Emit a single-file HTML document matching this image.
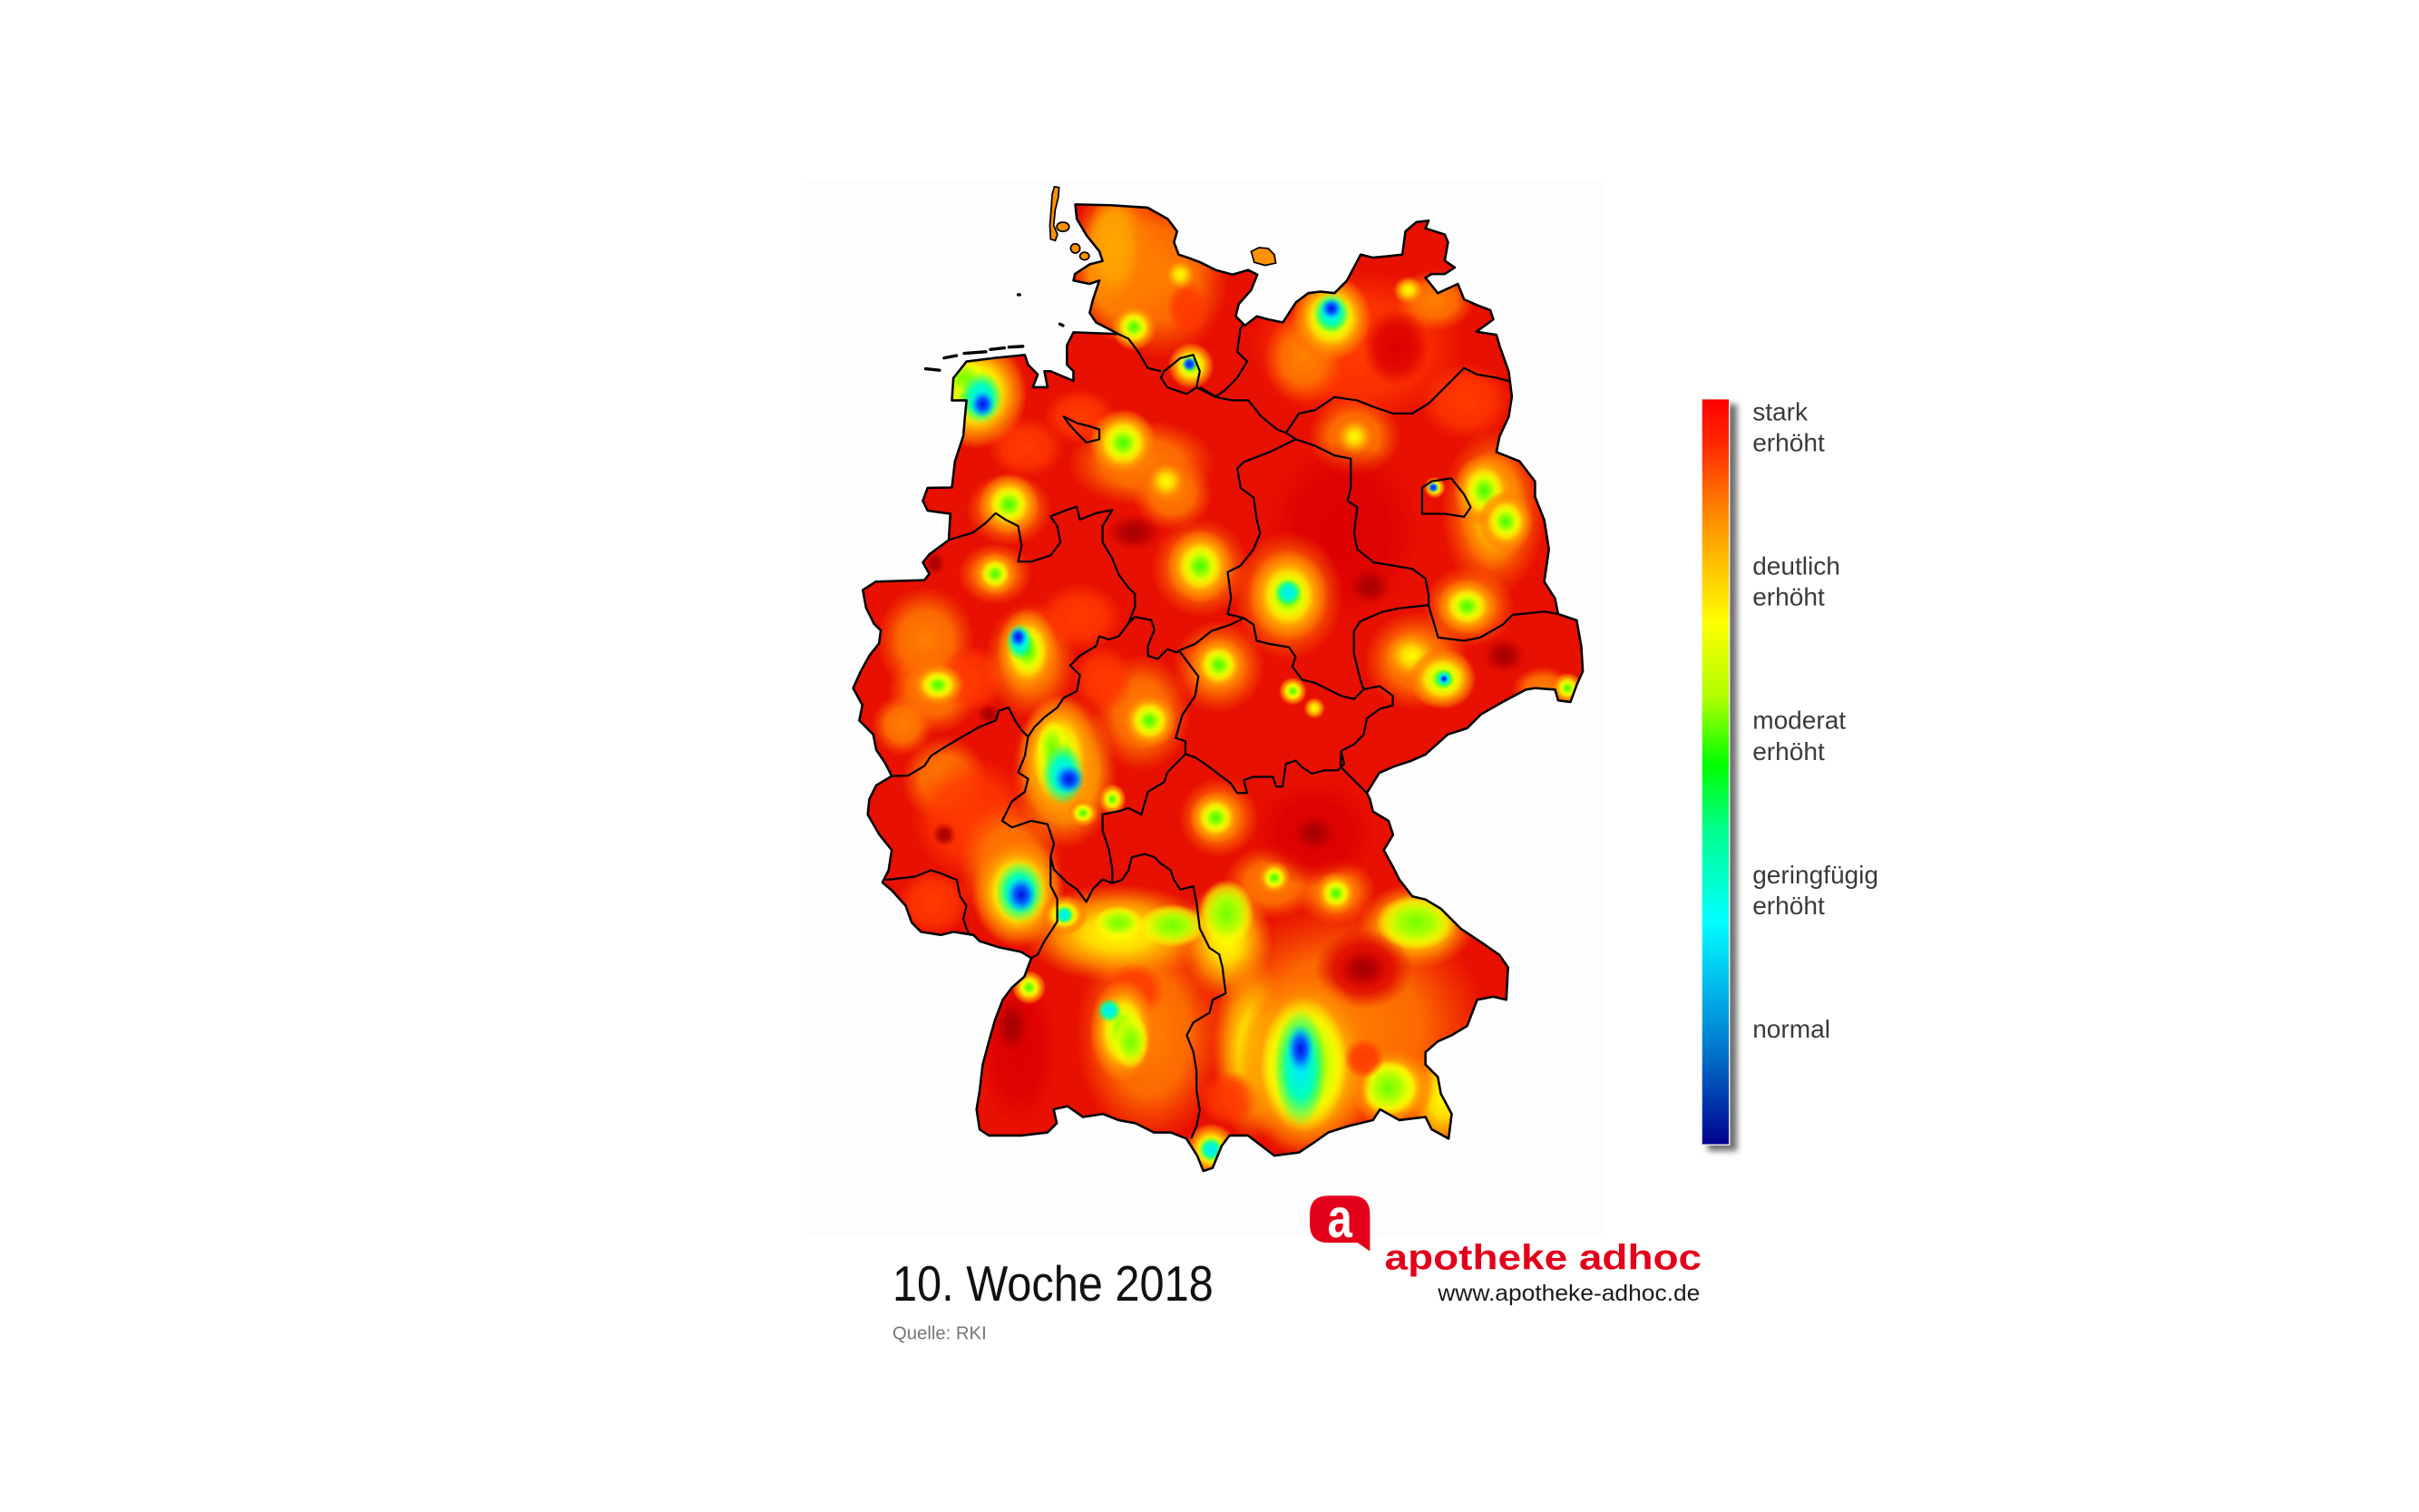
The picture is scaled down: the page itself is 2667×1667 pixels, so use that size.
<!DOCTYPE html>
<html><head><meta charset="utf-8"><style>
html,body{margin:0;padding:0;background:#fff;width:2667px;height:1667px;overflow:hidden}
svg{display:block}
</style></head><body>
<svg xmlns="http://www.w3.org/2000/svg" width="2667" height="1667" viewBox="0 0 1568 980" preserveAspectRatio="none">
<defs>
<radialGradient id="G"><stop offset="0" stop-color="#40ff00"/><stop offset=".2" stop-color="#90ff00"/><stop offset=".35" stop-color="#e0ff00"/><stop offset=".5" stop-color="#ffe000"/><stop offset=".66" stop-color="#ffa000" stop-opacity=".95"/><stop offset=".85" stop-color="#ff8000" stop-opacity=".6"/><stop offset="1" stop-color="#ff7000" stop-opacity="0"/></radialGradient>
<radialGradient id="GP"><stop offset="0" stop-color="#70ff00"/><stop offset=".45" stop-color="#b0ff00"/><stop offset=".75" stop-color="#f0ff00" stop-opacity=".7"/><stop offset="1" stop-color="#ffff00" stop-opacity="0"/></radialGradient>
<radialGradient id="Ci"><stop offset="0" stop-color="#00e8ff"/><stop offset=".5" stop-color="#00ffc0"/><stop offset="1" stop-color="#00ff80" stop-opacity="0"/></radialGradient>
<radialGradient id="Bi"><stop offset="0" stop-color="#0010e0"/><stop offset=".45" stop-color="#0060ff"/><stop offset="1" stop-color="#00c0ff" stop-opacity="0"/></radialGradient>
<radialGradient id="Y"><stop offset="0" stop-color="#ffff00"/><stop offset=".35" stop-color="#ffd800"/><stop offset=".65" stop-color="#ffa000" stop-opacity=".8"/><stop offset="1" stop-color="#ff8000" stop-opacity="0"/></radialGradient>
<radialGradient id="O"><stop offset="0" stop-color="#ff8000"/><stop offset=".55" stop-color="#ff7800" stop-opacity=".85"/><stop offset="1" stop-color="#ff6000" stop-opacity="0"/></radialGradient>
<radialGradient id="L"><stop offset="0" stop-color="#ffa800"/><stop offset=".6" stop-color="#ffa000" stop-opacity=".85"/><stop offset="1" stop-color="#ff9000" stop-opacity="0"/></radialGradient>
<radialGradient id="P"><stop offset="0" stop-color="#ff3c00"/><stop offset=".6" stop-color="#ff3800" stop-opacity=".8"/><stop offset="1" stop-color="#ff3800" stop-opacity="0"/></radialGradient>
<radialGradient id="R"><stop offset="0" stop-color="#dd0000"/><stop offset=".6" stop-color="#dd0000" stop-opacity=".8"/><stop offset="1" stop-color="#dd0000" stop-opacity="0"/></radialGradient>
<radialGradient id="D"><stop offset="0" stop-color="#a40000"/><stop offset=".45" stop-color="#b00000" stop-opacity=".85"/><stop offset="1" stop-color="#c80000" stop-opacity="0"/></radialGradient>
<linearGradient id="cb" x1="0" y1="0" x2="0" y2="1">
<stop offset="0" stop-color="#ff0000"/><stop offset=".06" stop-color="#ff2800"/><stop offset=".145" stop-color="#ff8000"/><stop offset=".22" stop-color="#ffc000"/><stop offset=".30" stop-color="#ffff00"/><stop offset=".40" stop-color="#b0ff00"/><stop offset=".49" stop-color="#00ff00"/><stop offset=".58" stop-color="#00ff90"/><stop offset=".70" stop-color="#00ffff"/><stop offset=".80" stop-color="#00b0e8"/><stop offset=".88" stop-color="#0070c8"/><stop offset=".95" stop-color="#0030a8"/><stop offset="1" stop-color="#000090"/>
</linearGradient>
<filter id="sh" x="-50%" y="-5%" width="200%" height="110%"><feGaussianBlur stdDeviation="2"/></filter>
<path id="outline" d="M697,132.5 L720,133 744,134.6 757,142 763,150 761,157 764,165 770,167 778,170 788,175 799,178 809,175 815,178 811,188 803,197 801,205 807,211 814.7,205 822,207 831.5,209 840,196 848,190 856,189 865,190 873,182 882,165 890,167 900,166 909,165 911,150 918,144 926,143 924,148 936.5,152 938.6,157 936.5,169 943,173.4 936.5,177.6 928,177.6 924,180 932,190 945,184 949,194 958,198 966,201 968,207 957,215 970,217 972,224 978,241 980,257 978,270 972,283 970,293 985,299 995,312 995,322 1001,337 1004,356 1001,377 1008,388 1010,398 1022,402 1025,419 1026,435 1022,444 1018,455 1010,454 1008,447 995,446 989,447 974,455 960,463 951,472 938.5,476 924,489 915,493 903,497 894,501 886,514 888,518 890,526 900,532 903,541 897,551 903,562 907,570 915.5,581 924,583 934,589 947,602 953,606 962,612 972,619 977.5,627 976.4,648 968,646 957.5,648 951,665 941,671 932,675 924,682 924,690 932,698 934,709 941,722 939,738 928,732 924,724 907,726 894.5,719 890,726 873.5,730 861,734 852.5,740 842,747 826,749 809,736 797,736 792,742.5 786,757 780,759 776,749 769,738 759,734 748,734 736,728 725,726 715,722 702,724 692,717 683,719 685,728 679,734 662,736 641,736 635,732 633,719 635,707 637,690 641,675 645,661 650,648 656,640 664,633 668.5,621 662,617 647.5,614 635,610 631,606 618,604 610,606 597,604 591,598 587,587 578,577 572,572 576,564 578,551 570,541 562.5,528 563.5,518 568,509 578,503 574,495 568,486 566,476 557,467 559,457 553,446 558,435 563.5,425 569.8,417 570.9,408.6 566.6,404.4 561.4,394 559.3,382.4 567.7,377 599.2,376 602.4,372 598.2,364.5 602.4,359.3 615,350 616,333 601.3,331 598.2,324.6 601.3,316.2 617,316 619,299 624.4,282.6 625.5,270 626.5,259.5 617,259.5 618,245 626.5,234.3 645,232 664.3,230 666.4,236.4 672.7,242.7 669.5,251 679,251 677,240.6 681,240.6 695.8,246.9 695.8,240.6 691.6,236.4 691.6,223.8 695.8,215.4 725,216.5 710.5,209 706.3,202.8 708.4,194.4 712.6,181.8 706.3,184 695.8,181.8 696.8,177.6 706.3,171.3 714.7,169.2 712.6,162.9 704.2,152.4 698,141.9 Z"/>
<clipPath id="de"><use href="#outline"/></clipPath>
</defs>

<rect x="0" y="0" width="1568" height="980" fill="#ffffff"/>
<rect x="522.7" y="117" width="517" height="684" fill="#fdfdfd"/>

<g clip-path="url(#de)">
<rect x="540" y="110" width="500" height="660" fill="#e81000"/>
<!-- broad areas -->
<ellipse cx="725" cy="170" rx="32" ry="52" fill="url(#L)"/>
<ellipse cx="752" cy="178" rx="45" ry="55" fill="url(#O)"/>
<ellipse cx="722" cy="160" rx="18" ry="35" fill="url(#L)"/>
<ellipse cx="770" cy="200" rx="14" ry="18" fill="url(#P)"/>
<ellipse cx="880" cy="225" rx="70" ry="50" fill="url(#P)"/>
<ellipse cx="845" cy="232" rx="26" ry="30" fill="url(#O)"/>
<ellipse cx="930" cy="195" rx="26" ry="20" fill="url(#O)"/>
<ellipse cx="905" cy="225" rx="22" ry="25" fill="url(#R)"/>
<ellipse cx="950" cy="260" rx="30" ry="25" fill="url(#P)"/>
<ellipse cx="878" cy="283" rx="30" ry="26" fill="url(#O)"/>
<ellipse cx="968" cy="332" rx="34" ry="55" fill="url(#O)"/>
<ellipse cx="968" cy="330" rx="22" ry="40" fill="url(#Y)"/>
<ellipse cx="952" cy="393" rx="30" ry="26" fill="url(#O)"/>
<ellipse cx="918" cy="428" rx="34" ry="32" fill="url(#O)"/>
<ellipse cx="915" cy="425" rx="18" ry="16" fill="url(#Y)"/>
<ellipse cx="1000" cy="446" rx="20" ry="14" fill="url(#O)"/>
<ellipse cx="870" cy="345" rx="50" ry="60" fill="url(#R)"/>
<ellipse cx="740" cy="300" rx="48" ry="28" fill="url(#O)"/>
<ellipse cx="700" cy="270" rx="24" ry="18" fill="url(#P)"/>
<ellipse cx="665" cy="290" rx="25" ry="20" fill="url(#P)"/>
<ellipse cx="760" cy="320" rx="26" ry="24" fill="url(#O)"/>
<ellipse cx="778" cy="368" rx="32" ry="32" fill="url(#O)"/>
<ellipse cx="835" cy="386" rx="36" ry="42" fill="url(#O)"/>
<ellipse cx="654" cy="330" rx="28" ry="24" fill="url(#O)"/>
<ellipse cx="645" cy="372" rx="24" ry="20" fill="url(#O)"/>
<ellipse cx="600" cy="415" rx="32" ry="35" fill="url(#O)"/>
<ellipse cx="605" cy="448" rx="30" ry="28" fill="url(#O)"/>
<ellipse cx="585" cy="470" rx="20" ry="20" fill="url(#O)"/>
<ellipse cx="630" cy="440" rx="22" ry="22" fill="url(#P)"/>
<ellipse cx="668" cy="428" rx="30" ry="38" fill="url(#O)"/>
<ellipse cx="700" cy="400" rx="28" ry="22" fill="url(#P)"/>
<ellipse cx="790" cy="432" rx="30" ry="30" fill="url(#O)"/>
<ellipse cx="740" cy="462" rx="32" ry="38" fill="url(#O)"/>
<ellipse cx="715" cy="440" rx="20" ry="22" fill="url(#P)"/>
<ellipse cx="612" cy="505" rx="28" ry="28" fill="url(#O)"/>
<ellipse cx="630" cy="530" rx="40" ry="40" fill="url(#P)"/>
<ellipse cx="605" cy="585" rx="24" ry="22" fill="url(#P)"/>
<ellipse cx="655" cy="560" rx="34" ry="42" fill="url(#O)"/>
<ellipse cx="690" cy="500" rx="34" ry="50" fill="url(#Y)"/>
<ellipse cx="790" cy="530" rx="26" ry="26" fill="url(#O)"/>
<ellipse cx="825" cy="572" rx="32" ry="24" fill="url(#O)"/>
<ellipse cx="866" cy="578" rx="26" ry="22" fill="url(#O)"/>
<ellipse cx="852" cy="540" rx="40" ry="35" fill="url(#R)"/>
<ellipse cx="870" cy="665" rx="95" ry="80" fill="url(#O)"/>
<ellipse cx="745" cy="670" rx="48" ry="72" fill="url(#O)"/>
<ellipse cx="725" cy="605" rx="62" ry="32" fill="url(#Y)"/>
<ellipse cx="795" cy="610" rx="30" ry="38" fill="url(#Y)"/>
<ellipse cx="812" cy="680" rx="26" ry="60" fill="url(#Y)"/>
<ellipse cx="935" cy="712" rx="24" ry="36" fill="url(#Y)"/>
<ellipse cx="918" cy="600" rx="38" ry="28" fill="url(#Y)"/>
<ellipse cx="884" cy="628" rx="32" ry="26" fill="url(#R)"/>
<ellipse cx="735" cy="642" rx="20" ry="18" fill="url(#P)"/>
<ellipse cx="797" cy="712" rx="20" ry="18" fill="url(#P)"/>
<ellipse cx="660" cy="680" rx="25" ry="50" fill="url(#R)"/>
<!-- dark reds -->
<ellipse cx="735" cy="345" rx="18" ry="12" fill="url(#D)"/>
<ellipse cx="888" cy="380" rx="14" ry="12" fill="url(#D)"/>
<ellipse cx="852" cy="540" rx="14" ry="12" fill="url(#D)"/>
<ellipse cx="884" cy="628" rx="16" ry="13" fill="url(#D)"/>
<ellipse cx="656" cy="665" rx="12" ry="18" fill="url(#D)"/>
<ellipse cx="975" cy="425" rx="14" ry="12" fill="url(#D)"/>
<ellipse cx="641" cy="463" rx="8" ry="7" fill="url(#D)"/>
<ellipse cx="612" cy="541" rx="8" ry="8" fill="url(#D)"/>
<ellipse cx="606" cy="365" rx="7" ry="8" fill="url(#D)"/>
<!-- spots -->
<ellipse cx="735" cy="212" rx="15" ry="15" fill="url(#G)"/>
<ellipse cx="765" cy="178" rx="10" ry="10" fill="url(#Y)"/>
<ellipse cx="772" cy="237" rx="15" ry="15" fill="url(#G)"/>
<ellipse cx="771" cy="236" rx="5" ry="5" fill="url(#Bi)"/>
<ellipse cx="863" cy="206" rx="26" ry="28" fill="url(#G)"/>
<ellipse cx="863" cy="203" rx="12" ry="13" fill="url(#Ci)"/>
<ellipse cx="863" cy="200" rx="7" ry="7" fill="url(#Bi)"/>
<ellipse cx="913" cy="188" rx="10" ry="9" fill="url(#Y)"/>
<ellipse cx="878" cy="283" rx="12" ry="12" fill="url(#Y)"/>
<ellipse cx="930" cy="316" rx="7" ry="7" fill="url(#G)"/>
<ellipse cx="929" cy="316" rx="3.5" ry="3.5" fill="url(#Bi)"/>
<ellipse cx="962" cy="318" rx="20" ry="24" fill="url(#G)"/>
<ellipse cx="976" cy="338" rx="18" ry="20" fill="url(#G)"/>
<ellipse cx="951" cy="393" rx="20" ry="18" fill="url(#G)"/>
<ellipse cx="935" cy="440" rx="22" ry="20" fill="url(#G)"/>
<ellipse cx="936" cy="440" rx="6" ry="6" fill="url(#Ci)"/>
<ellipse cx="936" cy="440" rx="3" ry="3" fill="url(#Bi)"/>
<ellipse cx="1016" cy="446" rx="10" ry="10" fill="url(#G)"/>
<ellipse cx="838" cy="448" rx="9" ry="9" fill="url(#G)"/>
<ellipse cx="852" cy="459" rx="7" ry="7" fill="url(#Y)"/>
<ellipse cx="632" cy="255" rx="34" ry="36" fill="url(#G)"/>
<ellipse cx="625" cy="245" rx="14" ry="12" fill="url(#GP)"/>
<ellipse cx="636" cy="258" rx="14" ry="17" fill="url(#Ci)"/>
<ellipse cx="637" cy="262" rx="8" ry="9" fill="url(#Bi)"/>
<ellipse cx="728" cy="287" rx="22" ry="22" fill="url(#G)"/>
<ellipse cx="756" cy="312" rx="13" ry="13" fill="url(#Y)"/>
<ellipse cx="654" cy="327" rx="20" ry="20" fill="url(#G)"/>
<ellipse cx="645" cy="372" rx="14" ry="14" fill="url(#G)"/>
<ellipse cx="778" cy="367" rx="22" ry="24" fill="url(#G)"/>
<ellipse cx="835" cy="386" rx="26" ry="30" fill="url(#G)"/>
<ellipse cx="835" cy="384" rx="9" ry="9" fill="url(#Ci)"/>
<ellipse cx="666" cy="422" rx="20" ry="28" fill="url(#G)"/>
<ellipse cx="661" cy="416" rx="9" ry="12" fill="url(#Ci)"/>
<ellipse cx="660" cy="413" rx="6" ry="7" fill="url(#Bi)"/>
<ellipse cx="608" cy="444" rx="17" ry="14" fill="url(#G)"/>
<ellipse cx="790" cy="431" rx="18" ry="18" fill="url(#G)"/>
<ellipse cx="745" cy="467" rx="18" ry="18" fill="url(#G)"/>
<ellipse cx="686" cy="492" rx="26" ry="42" fill="url(#G)"/>
<ellipse cx="682" cy="485" rx="10" ry="18" fill="url(#GP)"/>
<ellipse cx="689" cy="502" rx="14" ry="20" fill="url(#Ci)"/>
<ellipse cx="693" cy="505" rx="10" ry="10" fill="url(#Bi)"/>
<ellipse cx="702" cy="527" rx="10" ry="9" fill="url(#G)"/>
<ellipse cx="721" cy="518" rx="9" ry="10" fill="url(#G)"/>
<ellipse cx="660" cy="578" rx="30" ry="36" fill="url(#G)"/>
<ellipse cx="661" cy="578" rx="16" ry="20" fill="url(#Ci)"/>
<ellipse cx="662" cy="580" rx="10" ry="12" fill="url(#Bi)"/>
<ellipse cx="690" cy="593" rx="15" ry="13" fill="url(#G)"/>
<ellipse cx="690" cy="593" rx="6" ry="6" fill="url(#Ci)"/>
<ellipse cx="760" cy="600" rx="22" ry="14" fill="url(#GP)"/>
<ellipse cx="725" cy="598" rx="16" ry="11" fill="url(#GP)"/>
<ellipse cx="795" cy="592" rx="18" ry="22" fill="url(#GP)"/>
<ellipse cx="788" cy="530" rx="17" ry="17" fill="url(#G)"/>
<ellipse cx="866" cy="579" rx="14" ry="14" fill="url(#G)"/>
<ellipse cx="826" cy="569" rx="11" ry="11" fill="url(#G)"/>
<ellipse cx="667" cy="640" rx="11" ry="11" fill="url(#G)"/>
<ellipse cx="728" cy="668" rx="22" ry="34" fill="url(#G)"/>
<ellipse cx="733" cy="675" rx="12" ry="18" fill="url(#GP)"/>
<ellipse cx="719" cy="655" rx="8" ry="8" fill="url(#Ci)"/>
<ellipse cx="918" cy="598" rx="26" ry="18" fill="url(#GP)"/>
<ellipse cx="902" cy="705" rx="28" ry="26" fill="url(#G)"/>
<ellipse cx="900" cy="705" rx="18" ry="18" fill="url(#GP)"/>
<ellipse cx="846" cy="690" rx="44" ry="60" fill="url(#G)"/>
<ellipse cx="845" cy="690" rx="28" ry="44" fill="url(#GP)"/>
<ellipse cx="843" cy="692" rx="17" ry="38" fill="url(#Ci)"/>
<ellipse cx="843" cy="680" rx="9" ry="16" fill="url(#Bi)"/>
<ellipse cx="884" cy="686" rx="13" ry="13" fill="url(#P)"/>
<ellipse cx="785" cy="745" rx="17" ry="17" fill="url(#G)"/>
<ellipse cx="785" cy="745" rx="8" ry="8" fill="url(#Ci)"/>
</g>

<!-- outline -->
<use href="#outline" fill="none" stroke="#000" stroke-width="1.5" stroke-linejoin="round"/>

<!-- islands -->
<g stroke="#000" stroke-width="1" fill="#ff9000">
<polygon points="683.5,121 686.5,121.5 686,128 684,136 683,146 685.5,152 684,156 681,155 680.5,146 681.5,134 682,126"/>
<ellipse cx="689" cy="147" rx="4" ry="3"/>
<ellipse cx="697" cy="161" rx="3" ry="3"/>
<ellipse cx="703" cy="166" rx="3" ry="2.5"/>
<polygon points="811,163 816,160.5 822,161 826,165 827,170.5 820,172 813,170"/>
</g>
<g stroke="#000" stroke-width="2" stroke-linecap="round" fill="none">
<line x1="600" y1="239" x2="609" y2="240"/>
<line x1="612" y1="232" x2="620" y2="230.5"/>
<line x1="625" y1="229" x2="639" y2="228"/>
<line x1="642" y1="226.5" x2="651" y2="225.5"/>
<line x1="654" y1="225" x2="663" y2="224.5"/>
<line x1="660" y1="191" x2="661" y2="191"/>
<line x1="687" y1="210" x2="689" y2="211"/>
</g>

<!-- state borders -->
<g fill="none" stroke="#000" stroke-width="1.3" stroke-linejoin="round">
<polyline points="725,216.5 731.5,219.6 737.8,228 744,238.5 752.5,240.6"/>
<polygon points="752.5,244.8 754.6,240.6 765,232.2 773.5,230 777.7,240.6 775.6,251.1 769.3,255.3 756.7,251.1"/>
<polyline points="806,210 804,213.3 802,228 808.4,234.3 802,244.8 793.7,253.2 788,257 777.7,251"/>
<polyline points="775.6,251.1 788.2,257.4 798.7,259.5 809.2,259.5 817.6,270 828,278.4 833.6,280.5 840,284.7"/>
<polyline points="833.6,280.5 842,268 852.5,265.8 865,257.4 879.8,259.5 890.3,263.7 902.9,268 915.5,268 926,261.6 938.6,249 949,238.5 957.5,242.7 970,244.8 978,247"/>
<polyline points="840,284.7 823,293 806.3,299.4 802,303.6 804.2,316.2 812.6,322.5 814.7,337.2 816.8,345.6 812.6,356 804.2,366.6 795.8,370.8 798,387.6 795.8,398 806.2,400.6"/>
<polyline points="840,284.7 852.5,289 865,295.2 875.6,297.3 875.6,316.2 873.5,324.6 879.8,328.8 877.7,345.6 879.8,356 890.3,364.5 902.9,366.6 915.5,368.7 924,375 926,385.5 926,392.2"/>
<polyline points="877.6,409 881.8,402.7 896.5,396.4 907,394.3 926,392.2 932.2,413.2 949,415.3 959.5,413.2 974.2,404.8 980.5,398.5 1001.5,396.4 1010,398"/>
<polyline points="877.6,409 877.6,423.7 881.8,440.5 883.9,446.8"/>
<polyline points="806.2,400.6 812.5,404.8 814.6,415.3 823,417.4 835.6,419.5 839.8,425.8 837.7,432.1 844,440.5 852.4,442.6 860.8,446.8 869.2,451 877.6,453.1 883.9,446.8"/>
<polyline points="883.9,446.8 894.4,444.7 902.8,451 902.8,457.3 894.4,459.4 886,465.7 883.9,476.2 877.6,482.5 869.2,486.7"/>
<polyline points="869.2,486.7 869,497 879.7,507.7 886,514"/>
<polyline points="869.2,486.7 871.3,495.1 867.1,499.3 858.7,499.3 850.3,501.4 844,497.2 839.8,493 833.5,495.1 831.4,509.8 827.2,509.8 825.1,503.5 812.5,503.5 806.2,505.6 808.3,514 802,514 797.8,507.7 789.4,501.4 781,495.1 774.7,490.9 768.4,488.8"/>
<polyline points="768.4,488.8 768.4,480.4 762.1,478.3 766.3,463.6 774.7,451 776.8,438.4 770.5,430 764.2,421.6 763,422.9"/>
<polyline points="764.2,421.6 774.7,417.4 785.2,409 797.8,404.8 806.2,400.6"/>
<polyline points="735.7,399.8 746.2,401.9 748.3,408.2 744.1,418.7 744.1,425 750.4,427.1 756.7,420.8 763,422.9"/>
<polyline points="615,350 630.7,345.2 639,338.9 645.4,332.6 651.7,336.8 660,341 662.2,353.6 660,364 668.5,364 681,360 687.4,351.5 685.3,341 681,334.7 691.6,330.5 697.9,328.4 700,336.8 710.5,332.6 721,330.5 714.7,341 714.7,351.5 721,362 725.2,372.5 731.5,381 735.7,385 735.7,393.5 731.5,404 735.7,399.8"/>
<polyline points="731.5,404 725.2,412.4 718.9,414.5 712.6,412.4 710.5,418.7 700,425 693.7,431.3 700,437.6 698,448 689.5,452.3 685.3,458.6 677,464.9 670.6,471.2 666.4,477.5"/>
<polyline points="666.4,477.5 662.2,473.3 658,467 653.8,458.6 647.5,460.7 645.4,467 634.9,471.2 620.2,479.6 609.7,485.9 603.4,490 599.2,496.4 588.7,502.7 578,503"/>
<polyline points="666.4,477.5 664.3,490 660,500.6 666.4,504.8 664.3,513.2 655.9,519.5 649.6,532 656,536.3 668.5,532 679,534.2 683.2,546.8 681,555.2"/>
<polyline points="681,555.2 683.2,563.6 691.6,572 697.9,576.2 704.2,584.6 708.4,576.2 714.7,570 721,572.4"/>
<polyline points="721,572.4 721,563.6 718.9,551 714.7,538.4 714.7,527.9 725.2,525.8 731.5,523.7 739.9,527.9 744.1,513.2 754.6,506.9 756.7,500.6 767.2,490 768.4,488.8"/>
<polyline points="681,555.2 681,574 685.3,582.5 685.3,597.2 681,604 677,610 672.7,618.6 668.5,621"/>
<polyline points="721,572.4 727.3,570.3 731.5,564 733.6,555.6 742,553.5 748.3,555.6 752.5,559.8 758.8,564 761,570.3 765.1,576.6 773.5,574.5 775.6,585 777.7,601.8 784,614.4 790.3,618.6 792.4,627 794.5,643.8 786.1,648 784,656.4 773.5,662.7 769.3,671.1 773.5,681.6 775.6,694.2 775.6,706.8 777.7,719.4 775.6,729.9 772,738"/>
<polyline points="574,570.3 593,568.2 603.4,564 609.7,566 620.2,570.3 622.3,580.8 626.5,587 624.4,595.5 626.5,601.8 628.6,606"/>
<polygon points="689.5,270 698,274.2 706.3,276.3 712.6,278.4 712.6,284.7 704.2,286.8 698,280.5 693,275"/>
<polygon points="921.8,316.2 928,312 940.7,310 949,320.4 953.3,328.8 949,335 936.5,333 921.8,333"/>
</g>

<!-- colorbar -->
<rect x="1107" y="262" width="19" height="484" fill="#707070" filter="url(#sh)"/>
<rect x="1103" y="258.5" width="18" height="483.5" fill="url(#cb)" stroke="#f2f2f2" stroke-width="0.8"/>
<g font-family="'Liberation Sans', Arial, sans-serif" font-size="16.5" fill="#3a3a3a">
<text x="1136" y="272.5">stark</text>
<text x="1136" y="292.5">erhöht</text>
<text x="1136" y="372.5">deutlich</text>
<text x="1136" y="392.5">erhöht</text>
<text x="1136" y="472.5">moderat</text>
<text x="1136" y="492.5">erhöht</text>
<text x="1136" y="572.5">geringfügig</text>
<text x="1136" y="592.5">erhöht</text>
<text x="1136" y="672.5">normal</text>
</g>

<!-- title & source -->
<text x="578.5" y="843" font-family="'Liberation Sans', Arial, sans-serif" font-size="32" fill="#111" textLength="208" lengthAdjust="spacingAndGlyphs">10. Woche 2018</text>
<text x="578.5" y="868" font-family="'Liberation Sans', Arial, sans-serif" font-size="12" fill="#777" textLength="61" lengthAdjust="spacingAndGlyphs">Quelle: RKI</text>

<!-- logo -->
<path d="M861,775 L876,775 Q888,775 888,787 L888,811 L880,805.5 L861,805.5 Q849,805.5 849,793.5 L849,787 Q849,775 861,775 Z" fill="#e3001b"/>
<text x="860.5" y="802" font-family="'Liberation Sans', Arial, sans-serif" font-size="36" font-weight="bold" fill="#fff" textLength="16" lengthAdjust="spacingAndGlyphs">a</text>
<text x="897.5" y="822.6" font-family="'Liberation Sans', Arial, sans-serif" font-size="23" font-weight="bold" fill="#e3001b" textLength="205.5" lengthAdjust="spacingAndGlyphs">apotheke adhoc</text>
<text x="932" y="843" font-family="'Liberation Sans', Arial, sans-serif" font-size="14.5" fill="#1a1a1a" textLength="170" lengthAdjust="spacingAndGlyphs">www.apotheke-adhoc.de</text>
</svg>
</body></html>
